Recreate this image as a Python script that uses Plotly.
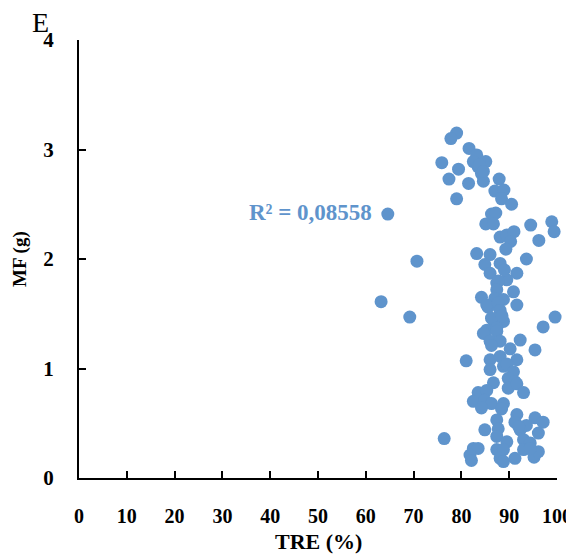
import plotly.graph_objects as go

tre = [64.6, 70.7, 63.2, 69.2, 81.0, 76.4,
       79.0, 77.8, 75.9, 79.4, 77.4, 81.5, 79.0, 81.6, 83.2, 82.5, 85.1, 83.5, 84.2, 84.6,
       83.8, 84.6, 87.9, 87.0, 88.9, 88.4, 90.5, 86.3, 87.2, 85.1, 86.7, 94.5, 98.9, 99.4,
       96.2, 88.1, 89.5, 91.0, 90.3, 89.3, 93.6, 83.2, 86.0, 84.9, 88.1, 86.0, 91.6, 87.4,
       89.5, 87.7, 90.9, 87.4, 84.2, 87.0, 88.8, 85.6, 85.3, 91.6, 87.7, 88.1, 86.7, 88.8,
       86.3, 99.6, 97.1, 85.3, 87.4, 84.6, 87.4, 86.0, 88.1, 92.3, 90.2, 95.4, 86.3, 86.0,
       88.1, 91.6, 88.8, 89.5, 86.0, 90.9, 86.7, 89.8, 91.2, 89.8, 91.6, 93.0, 83.5, 85.3,
       82.5, 84.9, 86.3, 84.2, 88.8, 88.4, 91.6, 95.4, 97.1, 87.4, 91.2, 93.6, 84.9, 87.7,
       92.3, 96.1, 87.4, 89.5, 93.0, 94.4, 82.5, 83.5, 81.8, 82.1, 87.4, 88.8, 88.1, 88.8,
       91.2, 93.0, 95.2, 96.1, 94.4, 92.0, 89.0, 88.5]
mf = [2.41, 1.98, 1.61, 1.47, 1.07, 0.36,
      3.15, 3.10, 2.88, 2.82, 2.73, 2.69, 2.55, 3.01, 2.95, 2.89, 2.89, 2.84, 2.78, 2.71,
      2.86, 2.80, 2.73, 2.62, 2.63, 2.55, 2.50, 2.41, 2.42, 2.32, 2.32, 2.31, 2.34, 2.25,
      2.17, 2.20, 2.22, 2.25, 2.16, 2.09, 2.00, 2.05, 2.04, 1.95, 1.96, 1.87, 1.87, 1.78,
      1.81, 1.80, 1.70, 1.72, 1.65, 1.64, 1.63, 1.56, 1.58, 1.58, 1.60, 1.53, 1.44, 1.43,
      1.46, 1.47, 1.38, 1.35, 1.37, 1.32, 1.34, 1.25, 1.25, 1.26, 1.18, 1.17, 1.21, 1.08,
      1.11, 1.08, 1.02, 1.04, 0.99, 0.97, 0.87, 0.91, 0.88, 0.82, 0.86, 0.78, 0.78, 0.80,
      0.70, 0.71, 0.68, 0.64, 0.68, 0.63, 0.58, 0.55, 0.51, 0.53, 0.51, 0.48, 0.44, 0.45,
      0.44, 0.41, 0.38, 0.33, 0.35, 0.32, 0.27, 0.27, 0.21, 0.16, 0.26, 0.26, 0.18, 0.15,
      0.18, 0.26, 0.19, 0.24, 0.27, 0.47, 1.90, 1.48]

x_ticks = [0, 10, 20, 30, 40, 50, 60, 70, 80, 90, 100]
y_ticks = [0, 1, 2, 3, 4]
x_title = "TRE (%)"
y_title = "MF (g)"
r2_label = "R² = 0,08558"
panel_label = "E"

BLUE = "#5F94CC"
FONT = "Liberation Serif"

fig = go.Figure()
fig.add_trace(go.Scatter(
    x=tre, y=mf, mode="markers",
    marker=dict(size=13, color=BLUE, line=dict(width=0)),
    cliponaxis=False, showlegend=False, hoverinfo="x+y",
))

axis_common = dict(
    showline=True, linecolor="black", linewidth=2,
    ticks="inside", ticklen=7, tickwidth=2, tickcolor="black",
    showgrid=False, zeroline=False, automargin=False,
)

fig.update_xaxes(range=[0, 100], tickvals=x_ticks, ticklabelstandoff=19,
                 tickfont=dict(family=FONT, size=20, color="black", weight="bold"), **axis_common)
fig.update_yaxes(range=[0, 4], tickvals=y_ticks, ticklabelstandoff=19,
                 tickfont=dict(family=FONT, size=21, color="black", weight="bold"), **axis_common)

# plot area in the page: 478 x 438 px starting at (79, 40)
fig.add_annotation(x=0.5, y=(478 - 541) / 438, xref="paper", yref="paper",
                   xanchor="center", yanchor="middle",
                   text="<b>" + x_title + "</b>", showarrow=False,
                   font=dict(family=FONT, size=22, color="black"))
fig.add_annotation(x=(20 - 79) / 478, y=0.5, xref="paper", yref="paper",
                   xanchor="center", yanchor="middle",
                   text="<b>" + y_title + "</b>", showarrow=False, textangle=-90,
                   font=dict(family=FONT, size=19, color="black"))
fig.add_annotation(x=(310 - 79) / 4.78, y=(478 - 212) / 109.5, xref="x", yref="y",
                   xanchor="center", yanchor="middle",
                   text="<b>" + r2_label + "</b>", showarrow=False,
                   font=dict(family=FONT, size=23, color=BLUE))
fig.add_annotation(x=(40 - 79) / 478, y=(478 - 22) / 438, xref="paper", yref="paper",
                   xanchor="center", yanchor="middle",
                   text=panel_label, showarrow=False,
                   font=dict(family=FONT, size=28, color="black"))

# page body has an 8 px margin, so the figure is 8 px smaller on each axis
fig.update_layout(
    width=566, height=546,
    margin=dict(l=71, r=17, t=32, b=76),
    plot_bgcolor="white", paper_bgcolor="white",
)

fig.write_html("out.html")
